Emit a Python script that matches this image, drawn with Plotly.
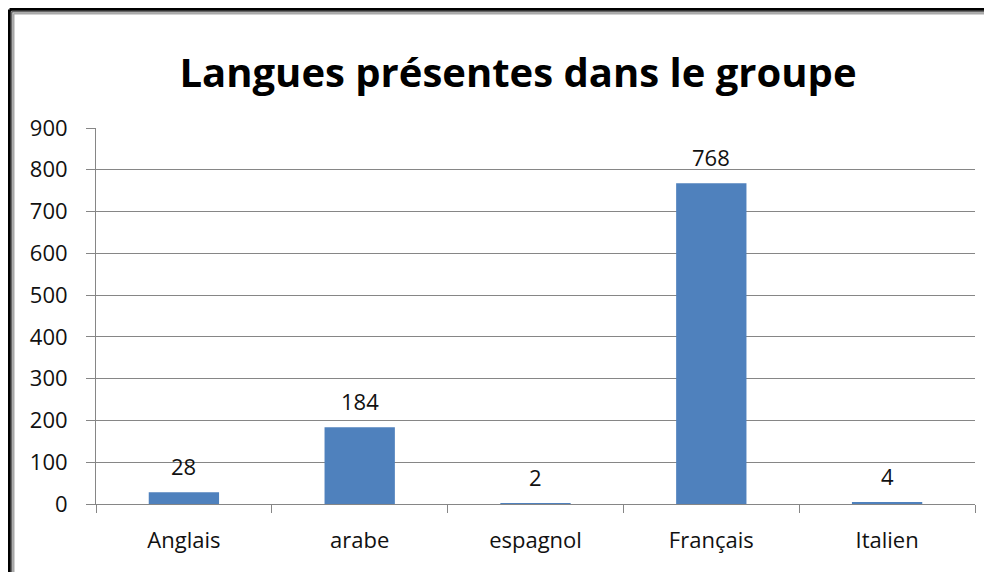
import plotly.graph_objects as go

categories = ["Anglais", "arabe", "espagnol", "Français", "Italien"]
values = [28, 184, 2, 768, 4]
y_ticks = [0, 100, 200, 300, 400, 500, 600, 700, 800, 900]
title_text = "Langues présentes dans le groupe"

FONT = "Open Sans"
O = 8  # page body margin offset
W, H = 992 - O, 572 - O
# plot area in page pixels
L, R, T, B = 96 - O, 975 - O, 128 - O, 504 - O
pw, ph = R - L, B - T

def px_x(x):
    return (x - O - L) / pw

def px_y(y):
    return (B - (y - O)) / ph

fig = go.Figure()
fig.add_trace(go.Bar(
    x=categories, y=values,
    marker=dict(color="#4F81BD", line=dict(width=0)),
    hoverinfo="x+y",
))

for c, v in zip(categories, values):
    fig.add_annotation(x=c, y=v, text=str(v), showarrow=False,
                       yanchor="bottom", yshift=9,
                       font=dict(family=FONT, size=22, color="#111"))

# outer chart frame (page pixel coords)
shapes = []
for (w, col, off) in [(3, "#000000", 9.5), (2, "#666666", 11.5), (2, "#a8a8a8", 13.5)]:
    shapes.append(dict(type="line", xref="paper", yref="paper",
                       x0=px_x(off), x1=px_x(1000), y0=px_y(off), y1=px_y(off),
                       line=dict(color=col, width=w)))
    shapes.append(dict(type="line", xref="paper", yref="paper",
                       x0=px_x(off), x1=px_x(off), y0=px_y(off), y1=px_y(600),
                       line=dict(color=col, width=w)))

fig.update_layout(
    width=W, height=H,
    margin=dict(l=L, r=W - R, t=T, b=H - B, pad=0),
    paper_bgcolor="white", plot_bgcolor="white",
    bargap=0.6,
    showlegend=False,
    title=dict(text="<b>" + title_text + "</b>", x=(518 - O) / W,
               xanchor="center", y=1 - (73 - O) / H, yanchor="middle",
               font=dict(family=FONT, size=40, color="#000")),
    shapes=shapes,
    xaxis=dict(
        tickson="boundaries", ticks="outside", ticklen=8, tickcolor="#868686",
        showline=True, linecolor="#868686", linewidth=1,
        showgrid=False, tickfont=dict(family=FONT, size=22, color="#111"),
        ticklabelstandoff=17,
    ),
    yaxis=dict(
        range=[0, 900], tickvals=y_ticks, ticks="outside", ticklen=9,
        tickcolor="#868686", showline=True, linecolor="#868686", linewidth=1,
        showgrid=True, gridcolor="#868686", gridwidth=1, zeroline=False,
        tickfont=dict(family=FONT, size=22, color="#111"),
        ticklabelstandoff=14,
    ),
)

fig.write_html("out.html")
